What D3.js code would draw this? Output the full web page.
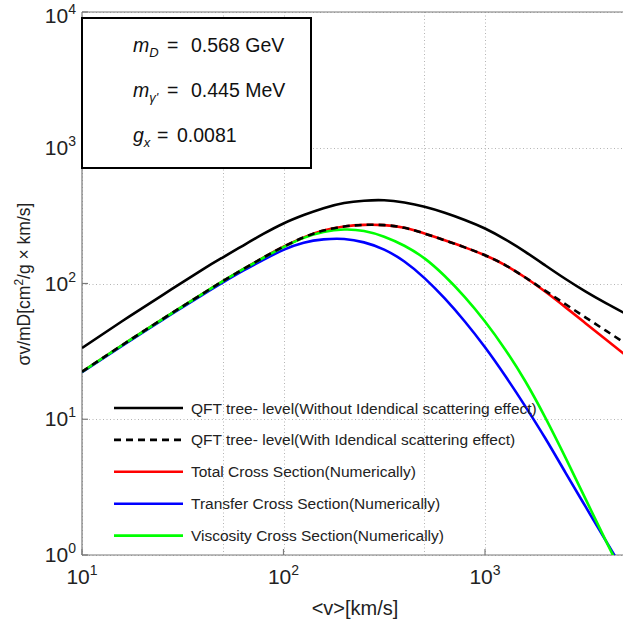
<!DOCTYPE html>
<html>
<head>
<meta charset="utf-8">
<script src="https://cdn.jsdelivr.net/npm/d3@7/dist/d3.min.js"></script>
<style>
  html, body { margin: 0; padding: 0; background: #fff; }
  svg { display: block; font-family: Arial, "Liberation Sans", Helvetica, sans-serif; }
</style>
</head>
<body>
<svg id="chart" width="623" height="626"></svg>
<script>
// ---- data ----
const velocity     = [10, 15.8, 25.1, 39.8, 50.1, 63.1, 79.4, 100, 126, 158, 200, 251, 316, 398, 501, 631, 794, 1000, 1259, 1585, 1995, 2512, 3162, 3981, 5012];
const qftWithout   = [33.5, 52.7, 82.2, 127.1, 156, 190.5, 231.7, 276.7, 319.2, 358.9, 391.7, 407.4, 410.2, 394.5, 367.3, 331.9, 293.8, 254.1, 211.3, 171.0, 135.8, 107.9, 87.1, 71.6, 59.6];
const qftWith      = [22.4, 35.1, 54.7, 84.3, 104.2, 127.4, 155.2, 186.6, 218.8, 245.5, 263.0, 270.4, 269.2, 257.0, 233.3, 208.0, 184.5, 161.4, 136.8, 110.7, 88.3, 70.3, 56.1, 44.9, 36.0];
const totalNum     = [22.4, 35.1, 54.7, 84.3, 104.2, 127.4, 155.2, 186.6, 218.8, 245.5, 263.0, 270.4, 269.2, 257.0, 233.3, 208.0, 184.5, 161.4, 136.8, 110.7, 86.9, 66.7, 50.8, 38.7, 29.5];
const transferNum  = [22.2, 34.7, 54.0, 82.8, 101.9, 124.2, 149.3, 177.0, 199.5, 211.3, 212.8, 200.9, 177.8, 145.2, 109.6, 77.6, 52.5, 33.9, 20.9, 12.45, 7.21, 4.03, 2.26, 1.27, 0.716];
const viscosityNum = [22.4, 35.1, 54.7, 84.3, 104.0, 127.4, 154.5, 185.4, 216.8, 239.9, 250.0, 243.8, 221.3, 189.7, 153.1, 113.5, 79.4, 52.5, 32.7, 19.05, 10.23, 5.19, 2.57, 1.27, 0.638];

const xTickExps = [1, 2, 3];
const yTickExps = [0, 1, 2, 3, 4];
const xGridValues = [10, 50, 100, 500, 1000, 5000];
const yGridValues = [1, 10, 100, 1000, 10000];

const legendLabels = [
  "QFT tree- level(Without Idendical scattering effect)",
  "QFT tree- level(With Idendical scattering effect)",
  "Total Cross Section(Numerically)",
  "Transfer Cross Section(Numerically)",
  "Viscosity Cross Section(Numerically)"
];

// ---- layout ----
const svg = d3.select("#chart");
const L = 82, T = 12, B = 555, Rpx = 623;
const decadeX = 201.5;
const x = d3.scaleLog().domain([10, 5000]).range([L, L + decadeX * Math.log10(500)]);
const y = d3.scaleLog().domain([1, 10000]).range([B, T]);

svg.append("rect").attr("width", 623).attr("height", 626).attr("fill", "#fff");

svg.append("defs").append("clipPath").attr("id", "plotclip")
  .append("rect").attr("x", L).attr("y", T).attr("width", Rpx - L + 5).attr("height", B - T);

// grid
const grid = svg.append("g").attr("stroke", "#b4b4b4").attr("stroke-width", 1).attr("stroke-dasharray", "1,2.5");
grid.selectAll("line.vx").data(xGridValues).join("line")
  .attr("x1", d => Math.round(x(d)) + 0.5).attr("x2", d => Math.round(x(d)) + 0.5)
  .attr("y1", T).attr("y2", B);
grid.selectAll("line.hy").data(yGridValues).join("line")
  .attr("y1", d => Math.round(y(d)) + 0.5).attr("y2", d => Math.round(y(d)) + 0.5)
  .attr("x1", L).attr("x2", Rpx);

// axes lines
const axisColor = "#7a7a7a";
const ax = svg.append("g").attr("stroke", axisColor).attr("stroke-width", 1.2);
ax.append("line").attr("x1", L).attr("x2", Rpx).attr("y1", B).attr("y2", B);
ax.append("line").attr("x1", L).attr("x2", L).attr("y1", T).attr("y2", B);
ax.append("line").attr("x1", L).attr("x2", Rpx).attr("y1", T).attr("y2", T);
ax.selectAll("line.xt").data(xTickExps).join("line")
  .attr("x1", d => x(Math.pow(10, d))).attr("x2", d => x(Math.pow(10, d)))
  .attr("y1", B).attr("y2", B - 6);
ax.selectAll("line.yt").data(yTickExps).join("line")
  .attr("y1", d => y(Math.pow(10, d))).attr("y2", d => y(Math.pow(10, d)))
  .attr("x1", L).attr("x2", L + 6);

// tick labels
const tickColor = "#222";
const xl = svg.append("g").attr("fill", tickColor).attr("font-size", 21);
xTickExps.forEach(e => {
  const t = xl.append("text").attr("x", x(Math.pow(10, e))).attr("y", B + 29).attr("text-anchor", "middle");
  t.append("tspan").text("10");
  t.append("tspan").attr("font-size", 14).attr("dy", -9).text(e);
});
const yl = svg.append("g").attr("fill", tickColor).attr("font-size", 21);
yTickExps.forEach(e => {
  const yy = Math.max(y(Math.pow(10, e)) + 7, 23);
  const t = yl.append("text").attr("x", 76).attr("y", yy).attr("text-anchor", "end");
  t.append("tspan").text("10");
  t.append("tspan").attr("font-size", 14).attr("dy", -9).text(e);
});

// axis titles
svg.append("text").attr("x", 355).attr("y", 615).attr("text-anchor", "middle")
  .attr("font-size", 20).attr("fill", tickColor).text("<v>[km/s]");
const yt = svg.append("text").attr("transform", "translate(30,284) rotate(-90)")
  .attr("text-anchor", "middle").attr("font-size", 17.5).attr("fill", tickColor);
yt.append("tspan").text("σv/mD[cm");
yt.append("tspan").attr("font-size", 12).attr("dy", -7).text("2");
yt.append("tspan").attr("dy", 7).text("/g × km/s]");

// curves
const series = [
  { values: qftWithout,   color: "#000",    dash: null },
  { values: totalNum,     color: "#ff0000", dash: null },
  { values: transferNum,  color: "#0000ff", dash: null },
  { values: viscosityNum, color: "#00ff00", dash: null },
  { values: qftWith,      color: "#000",    dash: "7,5" }
];
const line = d3.line().x(d => x(d[0])).y(d => y(d[1])).curve(d3.curveNatural);
const curves = svg.append("g").attr("clip-path", "url(#plotclip)");
series.forEach(s => {
  curves.append("path")
    .attr("d", line(velocity.map((v, i) => [v, s.values[i]])))
    .attr("fill", "none").attr("stroke", s.color).attr("stroke-width", 2.6)
    .attr("stroke-dasharray", s.dash);
});

// legend
const legendStyles = [
  { color: "#000", dash: null },
  { color: "#000", dash: "7,5" },
  { color: "#ff0000", dash: null },
  { color: "#0000ff", dash: null },
  { color: "#00ff00", dash: null }
];
const lg = svg.append("g");
legendLabels.forEach((lab, i) => {
  const yy = 408 + i * 31.9;
  lg.append("line").attr("x1", 114).attr("x2", 183).attr("y1", yy).attr("y2", yy)
    .attr("stroke", legendStyles[i].color).attr("stroke-width", 2.6)
    .attr("stroke-dasharray", legendStyles[i].dash);
  lg.append("text").attr("x", 191).attr("y", yy + 5.5).attr("font-size", 15.5)
    .attr("fill", tickColor).text(lab);
});

// parameter box
svg.append("rect").attr("x", 82).attr("y", 18).attr("width", 229).attr("height", 150)
  .attr("fill", "#fff").attr("stroke", "#000").attr("stroke-width", 2);
const info = svg.append("g").attr("font-size", 19.5).attr("fill", "#111");
function infoLine(base, sym, sub, eqX, val, valX) {
  const t = info.append("text").attr("y", base);
  t.append("tspan").attr("x", 133).attr("font-style", "italic").text(sym);
  t.append("tspan").attr("font-size", 13).attr("font-style", "italic").attr("dy", 5).text(sub);
  t.append("tspan").attr("x", eqX).attr("dy", -5).text("=");
  t.append("tspan").attr("x", valX).text(val);
}
infoLine(51.7, "m", "D", 167, "0.568 GeV", 191);
infoLine(96.7, "m", "γ'", 167, "0.445 MeV", 191);
infoLine(141.7, "g", "x", 157, "0.0081", 177);
</script>
</body>
</html>
